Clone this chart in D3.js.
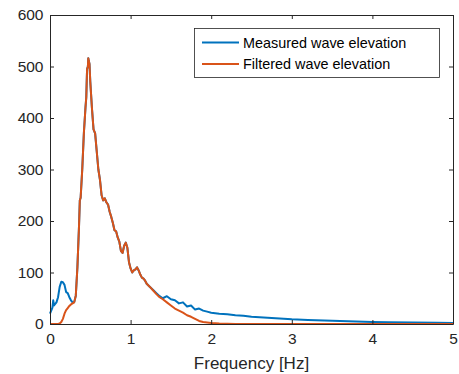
<!DOCTYPE html>
<html><head><meta charset="utf-8">
<script src="https://cdn.jsdelivr.net/npm/d3@7"></script>
<style>body{margin:0;background:#fff;} svg{display:block;font-family:"Liberation Sans",Arial,sans-serif;}</style>
</head><body><svg id="c" width="459" height="374"></svg>
<script>
const measuredFreq = [0,0.02,0.03,0.04,0.05,0.06,0.08,0.10,0.12,0.14,0.16,0.18,0.20,0.22,0.24,0.26,0.28,0.30,0.32,0.34,0.36,0.37,0.38,0.40,0.42,0.44,0.45,0.46,0.47,0.475,0.48,0.49,0.50,0.52,0.54,0.56,0.58,0.60,0.62,0.64,0.66,0.68,0.70,0.72,0.74,0.76,0.78,0.80,0.82,0.84,0.86,0.88,0.90,0.92,0.94,0.96,0.98,1.00,1.02,1.04,1.06,1.08,1.10,1.12,1.14,1.16,1.18,1.20,1.24,1.28,1.32,1.36,1.40,1.45,1.50,1.55,1.60,1.65,1.70,1.75,1.80,1.85,1.90,1.95,2.00,2.1,2.2,2.3,2.4,2.5,2.6,2.7,2.8,2.9,3.0,3.2,3.4,3.6,3.8,4.0,4.2,4.5,4.8,5.0];
const measuredValue = [20,28,32,46,36,38,42,52,72,82,81,76,62,60,52,46,42,42,55,110,190,240,245,300,370,420,440,495,500,516,512,505,470,420,378,370,335,300,280,250,240,244,236,232,218,208,196,182,180,168,160,142,138,152,158,148,120,108,100,104,106,110,104,96,90,88,84,78,72,66,60,54,50,54,48,46,40,42,34,36,28,30,26,24,22,20,19,17,16,14,13,12,11,10,9,8,7,6,5,4,3.5,3,2.5,2];
const filteredFreq = [0,0.10,0.12,0.14,0.16,0.18,0.20,0.22,0.24,0.26,0.28,0.30,0.32,0.34,0.36,0.37,0.38,0.40,0.42,0.44,0.45,0.46,0.47,0.475,0.48,0.49,0.50,0.52,0.54,0.56,0.58,0.60,0.62,0.64,0.66,0.68,0.70,0.72,0.74,0.76,0.78,0.80,0.82,0.84,0.86,0.88,0.90,0.92,0.94,0.96,0.98,1.00,1.02,1.04,1.06,1.08,1.10,1.12,1.14,1.16,1.18,1.20,1.24,1.28,1.32,1.36,1.40,1.45,1.50,1.55,1.60,1.65,1.70,1.75,1.80,1.85,1.90,1.95,2.00,2.1,2.2,2.3,2.5,3.0,4.0,5.0];
const filteredValue = [0,0,1,4,10,20,27,31,35,38,40,42,55,110,190,240,245,300,370,420,440,495,500,516,512,505,470,420,378,370,335,300,280,250,240,244,236,232,218,208,196,182,180,168,160,142,138,152,158,148,120,108,100,104,106,110,104,96,90,88,84,78,72,65,58,52,48,42,36,30,26,22,17,14,10,6,4,3,2,1,0.5,0.2,0,0,0,0];
const xTicks = [0,1,2,3,4,5];
const yTicks = [0,100,200,300,400,500,600];
const seriesNames = ["Measured wave elevation","Filtered wave elevation"];
const colors = ["#0072BD","#D95319"];

const L=50,R=453,T=15,B=324;
const svg=d3.select("#c");
const x=d3.scaleLinear().domain([0,5]).range([L,R]);
const y=d3.scaleLinear().domain([0,600]).range([B,T]);
const ax="#262626";

const line=d3.line().x(d=>x(d[0])).y(d=>y(d[1]));
const mData=measuredFreq.map((f,i)=>[f,measuredValue[i]]);
const fData=filteredFreq.map((f,i)=>[f,filteredValue[i]]);
const g=svg.append("g");
g.append("path").attr("d",line(mData)).attr("fill","none").attr("stroke",colors[0]).attr("stroke-width",2).attr("stroke-linejoin","round");
g.append("path").attr("d",line(fData)).attr("fill","none").attr("stroke",colors[1]).attr("stroke-width",2).attr("stroke-linejoin","round");

function styleAxis(sel){sel.select(".domain").attr("stroke",ax);sel.selectAll(".tick line").attr("stroke",ax);sel.selectAll("text").attr("fill",ax).style("font-size","15.5px").style("font-family","'Liberation Sans',Arial,sans-serif");}
const xb=svg.append("g").attr("transform",`translate(0,${B})`).call(d3.axisBottom(x).tickValues(xTicks).tickFormat(d3.format("d")).tickSizeInner(-4).tickSizeOuter(0).tickPadding(9));
styleAxis(xb);
const xt=svg.append("g").attr("transform",`translate(0,${T})`).call(d3.axisTop(x).tickValues(xTicks).tickFormat("").tickSizeInner(-4).tickSizeOuter(0));
styleAxis(xt);
const yl=svg.append("g").attr("transform",`translate(${L},0)`).call(d3.axisLeft(y).tickValues(yTicks).tickSizeInner(-4).tickSizeOuter(0).tickPadding(6.5));
styleAxis(yl);
const yr=svg.append("g").attr("transform",`translate(${R},0)`).call(d3.axisRight(y).tickValues(yTicks).tickFormat("").tickSizeInner(-4).tickSizeOuter(0));
styleAxis(yr);

svg.append("text").attr("x",(L+R)/2).attr("y",369).attr("text-anchor","middle").attr("fill",ax).style("font-size","17px").text("Frequency [Hz]");

// legend
const lg=svg.append("g");
lg.append("rect").attr("x",194.5).attr("y",28.5).attr("width",245).attr("height",49).attr("fill","#fff").attr("stroke",ax).attr("stroke-width",0.8);
seriesNames.forEach((n,i)=>{
  const cy=42.5+i*21.5;
  lg.append("line").attr("x1",202).attr("x2",239).attr("y1",cy).attr("y2",cy).attr("stroke",colors[i]).attr("stroke-width",2);
  lg.append("text").attr("x",243).attr("y",cy).attr("dy","0.35em").attr("fill","#000").style("font-size","14.4px").text(n);
});
</script></body></html>
